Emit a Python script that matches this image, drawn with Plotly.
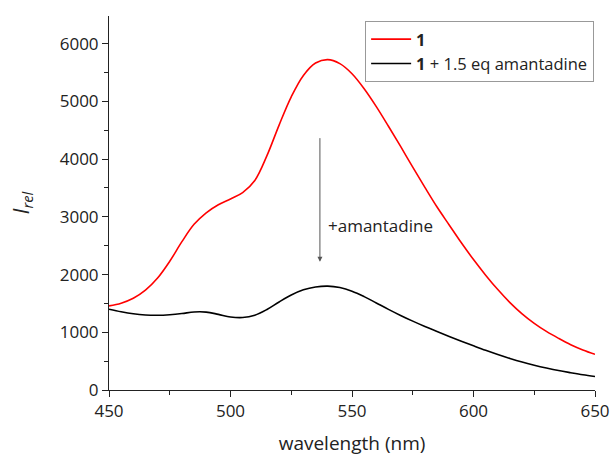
import plotly.graph_objects as go

wavelength = [450, 455, 460, 465, 470, 475, 480, 485, 490, 495, 500, 505, 510, 515, 520, 525, 530, 535, 540,
              545, 550, 555, 560, 565, 570, 575, 580, 585, 590, 595, 600, 605, 610, 615, 620, 625, 630, 635, 640, 645, 650]
i_red = [1457, 1505, 1590, 1730, 1940, 2230, 2570, 2870, 3070, 3210, 3310, 3420, 3630, 4060, 4590, 5080, 5450, 5665, 5725,
         5655, 5480, 5220, 4910, 4570, 4220, 3860, 3510, 3170, 2860, 2550, 2260, 1990, 1740, 1515, 1320, 1155, 1015, 895, 785, 695, 620]
i_blk = [1400, 1355, 1320, 1300, 1295, 1305, 1325, 1352, 1350, 1310, 1265, 1255, 1295, 1395, 1525, 1645, 1735, 1785, 1800,
         1775, 1712, 1618, 1508, 1397, 1292, 1193, 1100, 1013, 928, 845, 765, 687, 614, 546, 484, 430, 381, 337, 300, 265, 235]

names = ["<b>1</b>", "<b>1</b> + 1.5 eq amantadine"]
colors = ["#ff0000", "#000000"]

font = "Open Sans, DejaVu Sans, sans-serif"

fig = go.Figure()
fig.add_trace(go.Scatter(x=wavelength, y=i_red, mode="lines", name=names[0],
                         line=dict(color=colors[0], width=1.6, shape="spline", smoothing=1.0)))
fig.add_trace(go.Scatter(x=wavelength, y=i_blk, mode="lines", name=names[1],
                         line=dict(color=colors[1], width=1.6, shape="spline", smoothing=1.0)))

fig.add_annotation(x=536.8, y=2220, ax=536.8, ay=4390, xref="x", yref="y", axref="x", ayref="y",
                   text="", showarrow=True, arrowhead=2, arrowsize=1, arrowwidth=1, arrowcolor="#555555")
fig.add_annotation(x=539.5, y=2844, xref="x", yref="y", text="+amantadine", showarrow=False,
                   xanchor="left", font=dict(size=17, color="#222222", family=font))

fig.update_layout(
    width=611, height=458,
    margin=dict(l=109, r=16, t=16, b=68),
    plot_bgcolor="white", paper_bgcolor="white",
    font=dict(family=font, size=17, color="#222222"),
    showlegend=True,
    legend=dict(x=0.527, y=0.987, xanchor="left", yanchor="top",
                bordercolor="#999999", borderwidth=1, bgcolor="white",
                font=dict(size=16.5, family=font), tracegroupgap=0, itemwidth=40),
    xaxis=dict(range=[450, 650], tickvals=[450, 500, 550, 600, 650], ticks="outside",
               ticklen=6, tickwidth=1, tickcolor="#222222", automargin=False,
               minor=dict(tickvals=[475, 525, 575, 625], ticks="outside", ticklen=4, tickcolor="#222222"),
               showline=True, linecolor="#222222", linewidth=1, showgrid=False, zeroline=False,
               title=dict(text="wavelength (nm)", font=dict(size=19), standoff=15)),
    yaxis=dict(range=[0, 6480], tickvals=[0, 1000, 2000, 3000, 4000, 5000, 6000], ticks="outside",
               ticklen=6, tickwidth=1, tickcolor="#222222", automargin=False,
               minor=dict(tickvals=[500, 1500, 2500, 3500, 4500, 5500, 6500], ticks="outside", ticklen=4, tickcolor="#222222"),
               showline=True, linecolor="#222222", linewidth=1, showgrid=False, zeroline=False,
               title=dict(text="<i>I</i><sub><i>rel</i></sub>", font=dict(size=21), standoff=24)),
)

fig.write_html("out.html")
